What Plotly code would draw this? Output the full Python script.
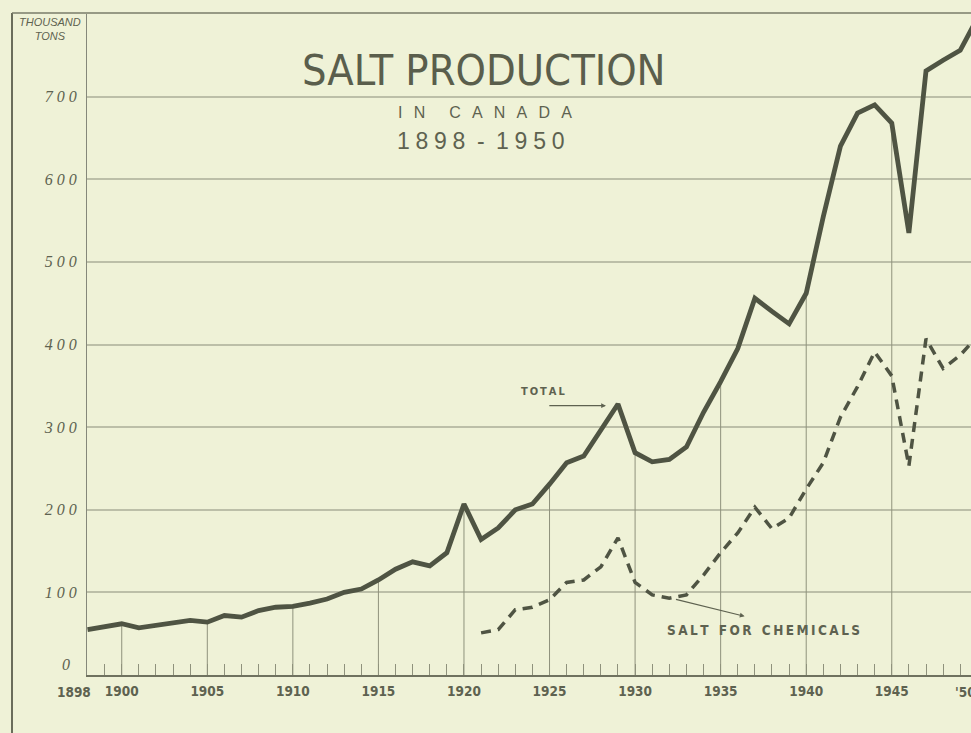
import plotly.graph_objects as go

# ---------------- data (thousand tons) ----------------
years_total = list(range(1898, 1951))
total = [55, 58, 62, 57, 60, 62, 66, 64, 72, 70,
         78, 82, 83, 87, 92, 100, 104, 115, 128, 137,
         132, 148, 207, 164, 178, 200, 207, 231, 257, 265,
         296, 328, 269, 258, 261, 276, 318, 355, 395, 456,
         440, 425, 462, 555, 640, 680, 690, 668, 535, 731,
         744, 756, 795]

years_chem = list(range(1921, 1951))
chemicals = [51, 55, 79, 82, 91, 112, 115, 131, 166, 112,
             97, 93, 97, 121, 148, 172, 203, 177, 190, 225,
             257, 312, 349, 391, 362, 253, 407, 371, 387, 410]

x_tick_vals = [1898, 1900, 1905, 1910, 1915, 1920, 1925, 1930, 1935, 1940, 1945]
x_tick_text = ["", "1900", "1905", "1910", "1915", "1920", "1925", "1930", "1935", "1940", "1945"]
first_year_label = "1898"
last_year_label = "'50"
drop_years = [1900, 1905, 1910, 1915, 1920, 1925, 1930, 1935, 1940, 1945]
y_tick_vals = [0, 100, 200, 300, 400, 500, 600, 700]
y_tick_text = ["", "1 0 0", "2 0 0", "3 0 0", "4 0 0", "5 0 0", "6 0 0", "7 0 0"]
zero_label = "0"

# ---------------- styles ----------------
BG = "#eff2d7"
INK = "#4f5443"
TEXT = "#5e6250"
GRID = "#bcbfa8"
FAINT = "#8f927c"
COND = "DejaVu Sans Condensed, Liberation Sans Narrow, Liberation Sans, sans-serif"

fig = go.Figure()

# drop lines from the total curve down to the base every five years
lookup = dict(zip(years_total, total))
dx, dy = [], []
for yr in drop_years:
    dx += [yr, yr, None]
    dy += [0, lookup[yr], None]
fig.add_trace(go.Scatter(x=dx, y=dy, mode="lines",
                         line=dict(color=FAINT, width=1),
                         hoverinfo="skip", showlegend=False))

fig.add_trace(go.Scatter(x=years_chem, y=chemicals, mode="lines",
                         line=dict(color=INK, width=3.5, dash="10px,7px"),
                         name="Salt for chemicals", showlegend=False))

fig.add_trace(go.Scatter(x=years_total, y=total, mode="lines",
                         line=dict(color=INK, width=4.8),
                         name="Total", showlegend=False))

PL, PR, PT, PB = 87, 0, 14, 58
W, H = 971, 733
pw = W - PL - PR
ph = H - PT - PB


def px_x(p):
    return (p - PL) / pw


def px_y(p):
    return (H - PB - p) / ph


XFONT = dict(family=COND, size=13.5, color=TEXT, weight="bold")
YFONT = dict(family="Liberation Serif, DejaVu Serif", size=16, color=TEXT, style="italic")

fig.update_layout(
    width=W, height=H,
    margin=dict(l=PL, r=PR, t=PT, b=PB),
    paper_bgcolor=BG, plot_bgcolor=BG,
    xaxis=dict(range=[1897.97, 1949.63], tickmode="array",
               tickvals=x_tick_vals, ticktext=x_tick_text, tickangle=0,
               ticks="inside", ticklen=11, tickwidth=1, tickcolor=FAINT,
               ticklabelstandoff=3,
               showgrid=False, zeroline=False,
               showline=True, linecolor="#6f725f", linewidth=1.5,
               tickfont=XFONT,
               minor=dict(tickmode="array", tickvals=years_total, ticks="inside",
                          ticklen=11, tickwidth=1, tickcolor=FAINT, showgrid=False)),
    yaxis=dict(range=[0, 800], tickmode="array",
               tickvals=y_tick_vals, ticktext=y_tick_text,
               showgrid=True, gridcolor=GRID, gridwidth=1.5,
               zeroline=False, showline=True, linecolor="#85887a", linewidth=1,
               ticks="", ticklabelstandoff=6, tickfont=YFONT),
    showlegend=False,
)

# outer frame (left rule and top rule)
fig.add_shape(type="line", xref="paper", yref="paper",
              x0=px_x(12), x1=px_x(12), y0=px_y(13), y1=px_y(H + 2),
              line=dict(color="#6a6d5b", width=2))
fig.add_shape(type="line", xref="paper", yref="paper",
              x0=px_x(12), x1=px_x(W + 2), y0=px_y(13), y1=px_y(13),
              line=dict(color="#7a7d6a", width=1.5))


def paper_text(xp, yp, text, font, xanchor="center"):
    fig.add_annotation(xref="paper", yref="paper", x=px_x(xp), y=px_y(yp),
                       xanchor=xanchor, yanchor="middle", text=text,
                       showarrow=False, font=font, align="center")


paper_text(50, 29, "<i>THOUSAND<br>TONS</i>",
           dict(family="Liberation Sans, DejaVu Sans", size=11, color=TEXT))
paper_text(484, 70, "SALT PRODUCTION",
           dict(family=COND, size=43, color="#5a5e4c"))
paper_text(485, 112, "I\u2002\u2009N\u2003\u2002C\u2002\u2009A\u2002\u2009N\u2002\u2009A\u2002\u2009D\u2002\u2009A",
           dict(family="Liberation Sans, DejaVu Sans", size=16, color=TEXT))
paper_text(481, 141, "1\u20058\u20059\u20058\u2002-\u20021\u20059\u20055\u20050",
           dict(family="Liberation Sans, DejaVu Sans", size=23, color=TEXT))

# zero label sits a little above the base line
fig.add_annotation(xref="paper", yref="y", x=px_x(66), y=y_tick_vals[0],
                   xanchor="center", yanchor="bottom",
                   text="<i>" + zero_label + "</i>", showarrow=False, font=YFONT)
# first year label sits just left of its tick, as in the original
fig.add_annotation(xref="x", yref="paper", x=years_total[0], y=px_y(692),
                   xanchor="right", yanchor="middle", xshift=5,
                   text=first_year_label, showarrow=False, font=XFONT)
# '50 label cut by the right edge
paper_text(953, 692, last_year_label, XFONT, xanchor="left")

# series labels
fig.add_annotation(x=1924.6, y=343, text="T\u2009O\u2009T\u2009A\u2009L", showarrow=False,
                   font=dict(family=COND, size=11, color=TEXT, weight="bold"))
fig.add_annotation(x=1928.3, y=326, ax=1924.9, ay=326, axref="x", ayref="y",
                   text="", showarrow=True, arrowhead=2, arrowsize=0.8,
                   arrowwidth=1.2, arrowcolor=TEXT)
fig.add_annotation(x=1937.5, y=54,
                   text="S\u2009A\u2009L\u2009T\u2002 F\u2009O\u2009R\u2002 C\u2009H\u2009E\u2009M\u2009I\u2009C\u2009A\u2009L\u2009S",
                   showarrow=False, font=dict(family=COND, size=13.5, color=TEXT, weight="bold"))
fig.add_annotation(x=1936.4, y=71, ax=1932.3, ay=92, axref="x", ayref="y",
                   text="", showarrow=True, arrowhead=2, arrowsize=0.8,
                   arrowwidth=1.2, arrowcolor=TEXT)

fig.write_html("out.html",
               config={"displayModeBar": False},
               post_script="document.body.style.margin='0';"
                           "document.body.style.background='#eff2d7';")
